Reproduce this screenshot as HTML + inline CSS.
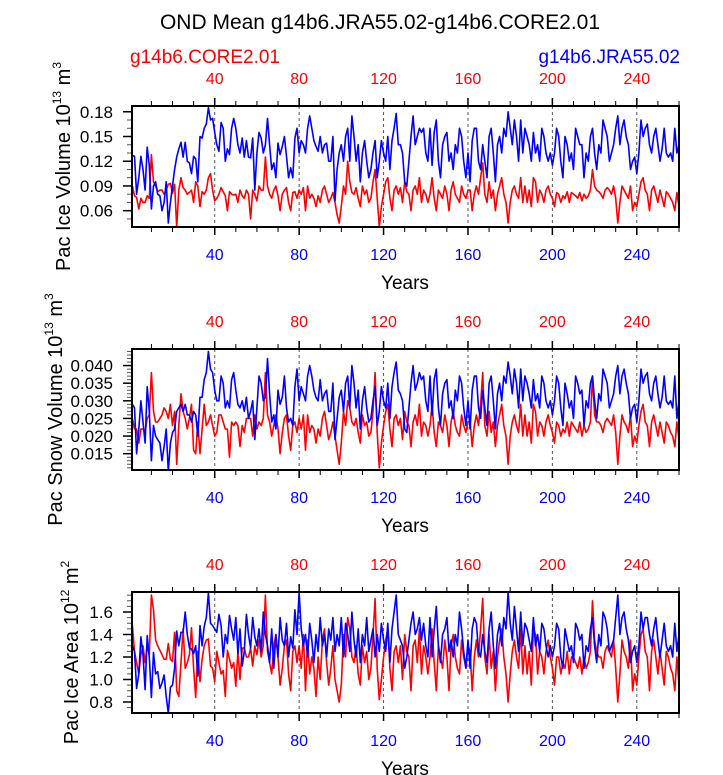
<!DOCTYPE html>
<html><head><meta charset="utf-8"><style>
body{margin:0;background:#fff;}
svg{display:block;font-family:"Liberation Sans",sans-serif;}
</style></head><body>
<svg id="chart" width="723" height="775">
<text x="380" y="29" font-size="21" text-anchor="middle">OND Mean g14b6.JRA55.02-g14b6.CORE2.01</text>
<text x="130" y="63" font-size="19" fill="#ff0000">g14b6.CORE2.01</text>
<text x="680" y="63" font-size="19" fill="#0000ff" text-anchor="end">g14b6.JRA55.02</text>
</svg>
<script>
const years = [];
for (let i = 1; i <= 260; i++) years.push(i);
const xTicks = [40, 80, 120, 160, 200, 240];

const iceVolJRA = [.127,.126,.080,.100,.126,.110,.085,.137,.115,.062,.090,.095,.080,.078,.060,.070,.095,.045,.070,.090,
.110,.125,.135,.143,.125,.143,.120,.118,.105,.126,.123,.095,.150,.148,.160,.165,.185,.170,.172,.155,
.140,.132,.167,.160,.120,.135,.128,.160,.172,.160,.140,.130,.148,.125,.145,.125,.124,.148,.085,.130,
.155,.148,.130,.140,.172,.140,.110,.118,.100,.142,.128,.138,.150,.126,.100,.112,.100,.148,.160,.130,
.145,.140,.130,.160,.175,.160,.145,.138,.132,.150,.130,.140,.142,.120,.120,.150,.072,.110,.130,.140,
.120,.150,.160,.120,.175,.150,.120,.140,.095,.130,.145,.120,.100,.110,.130,.145,.100,.120,.145,.130,
.120,.150,.110,.145,.160,.178,.140,.140,.130,.095,.090,.120,.150,.175,.140,.150,.160,.155,.160,.130,
.120,.160,.115,.155,.170,.120,.100,.140,.150,.155,.120,.130,.110,.140,.130,.160,.150,.120,.100,.130,
.095,.145,.160,.160,.120,.110,.140,.120,.100,.150,.160,.130,.095,.140,.150,.130,.160,.150,.180,.160,
.140,.170,.150,.120,.170,.130,.160,.150,.140,.120,.155,.130,.140,.120,.160,.150,.130,.120,.130,.115,
.130,.160,.150,.120,.100,.150,.140,.120,.130,.110,.160,.150,.140,.140,.100,.130,.120,.150,.160,.130,
.110,.140,.130,.170,.160,.150,.120,.130,.140,.160,.175,.140,.160,.170,.150,.140,.110,.120,.125,.105,
.130,.170,.150,.160,.165,.140,.130,.150,.160,.140,.120,.135,.160,.130,.125,.130,.120,.160,.130,.140];
const iceVolCORE = [.090,.078,.076,.062,.075,.070,.070,.078,.075,.128,.095,.090,.083,.085,.085,.080,.085,.092,.093,.081,
.092,.040,.085,.100,.088,.085,.080,.082,.085,.070,.095,.090,.065,.083,.080,.085,.100,.105,.085,.072,
.075,.080,.088,.083,.078,.060,.083,.080,.079,.080,.070,.085,.078,.075,.085,.080,.050,.085,.080,.072,
.090,.085,.085,.125,.090,.080,.075,.085,.090,.078,.060,.080,.085,.088,.070,.060,.082,.083,.075,.085,
.080,.088,.060,.090,.075,.080,.075,.065,.078,.070,.085,.090,.080,.070,.075,.082,.070,.055,.045,.065,
.090,.080,.120,.095,.082,.080,.088,.075,.065,.090,.080,.085,.070,.075,.095,.110,.075,.040,.065,.080,
.095,.100,.075,.060,.085,.090,.080,.088,.070,.095,.083,.080,.060,.085,.090,.080,.100,.070,.085,.080,
.070,.080,.100,.075,.060,.085,.080,.075,.090,.080,.060,.085,.095,.080,.075,.070,.090,.080,.075,.085,
.085,.060,.080,.090,.080,.100,.118,.080,.070,.095,.075,.085,.060,.080,.090,.100,.080,.070,.045,.070,
.085,.090,.080,.075,.100,.070,.090,.070,.085,.065,.100,.095,.070,.085,.080,.070,.085,.090,.080,.075,
.065,.082,.080,.070,.078,.075,.083,.070,.082,.080,.078,.075,.082,.072,.080,.075,.078,.085,.110,.090,
.085,.083,.080,.075,.085,.088,.085,.080,.090,.075,.045,.070,.090,.085,.080,.075,.090,.060,.070,.065,
.080,.095,.100,.085,.080,.060,.085,.090,.080,.070,.085,.075,.065,.083,.080,.075,.070,.060,.082,.065];
const snowVolJRA = [.029,.028,.015,.022,.030,.024,.018,.034,.027,.013,.023,.020,.019,.018,.013,.017,.022,.010,.018,.021,
.022,.027,.028,.029,.027,.029,.026,.026,.024,.027,.026,.020,.031,.031,.036,.038,.044,.039,.038,.033,
.030,.030,.037,.035,.028,.030,.028,.036,.038,.033,.029,.028,.030,.027,.031,.025,.027,.030,.019,.028,
.037,.035,.030,.031,.042,.032,.024,.026,.022,.033,.029,.031,.037,.028,.024,.025,.023,.034,.039,.030,
.034,.032,.030,.037,.040,.037,.033,.031,.030,.036,.030,.032,.033,.027,.027,.035,.019,.025,.031,.033,
.027,.035,.037,.028,.040,.035,.028,.033,.022,.030,.034,.028,.024,.025,.030,.034,.023,.027,.034,.030,
.028,.035,.025,.034,.038,.041,.033,.032,.030,.022,.021,.028,.035,.040,.033,.035,.038,.036,.037,.030,
.027,.037,.026,.036,.039,.028,.023,.032,.035,.036,.028,.030,.025,.033,.030,.037,.035,.028,.023,.030,
.022,.033,.037,.037,.028,.025,.033,.028,.023,.035,.037,.030,.022,.032,.035,.030,.037,.035,.041,.037,
.032,.039,.035,.028,.039,.030,.037,.035,.032,.028,.036,.030,.032,.028,.037,.035,.030,.028,.030,.026,
.030,.037,.035,.028,.023,.035,.032,.028,.030,.025,.037,.035,.032,.033,.023,.030,.028,.035,.037,.030,
.025,.032,.030,.039,.037,.035,.028,.030,.032,.037,.040,.032,.037,.039,.035,.032,.025,.028,.029,.024,
.030,.039,.035,.037,.038,.032,.030,.035,.037,.032,.028,.031,.037,.030,.029,.030,.028,.037,.025,.030];
const snowVolCORE = [.025,.022,.022,.018,.022,.022,.021,.025,.026,.038,.027,.024,.024,.025,.026,.028,.027,.025,.029,.023,
.027,.012,.023,.032,.027,.025,.022,.025,.029,.016,.015,.024,.015,.022,.029,.023,.024,.026,.023,.020,
.021,.026,.026,.024,.022,.022,.014,.024,.023,.024,.023,.017,.023,.021,.025,.025,.025,.020,.026,.022,
.024,.023,.025,.038,.026,.024,.020,.023,.026,.022,.015,.021,.025,.026,.020,.016,.023,.024,.021,.025,
.022,.026,.016,.026,.021,.023,.022,.018,.022,.020,.025,.027,.023,.019,.021,.024,.020,.016,.012,.018,
.027,.023,.030,.028,.024,.023,.025,.021,.018,.026,.023,.024,.020,.021,.027,.038,.021,.011,.018,.023,
.027,.029,.022,.017,.025,.026,.023,.025,.019,.027,.024,.023,.017,.024,.026,.023,.029,.020,.024,.023,
.020,.023,.029,.021,.017,.024,.023,.021,.026,.023,.017,.024,.027,.023,.021,.020,.026,.023,.021,.024,
.024,.017,.023,.026,.023,.029,.038,.023,.020,.027,.021,.024,.017,.023,.026,.029,.023,.020,.012,.020,
.024,.026,.023,.021,.029,.020,.026,.020,.024,.018,.029,.027,.020,.024,.023,.020,.024,.026,.023,.021,
.018,.024,.023,.020,.022,.021,.024,.020,.024,.023,.022,.021,.024,.020,.023,.021,.022,.024,.037,.026,
.024,.024,.023,.021,.024,.025,.024,.023,.026,.021,.012,.020,.026,.024,.023,.021,.026,.017,.020,.018,
.023,.027,.029,.024,.023,.017,.024,.026,.023,.020,.024,.021,.018,.024,.023,.021,.020,.017,.024,.019];
const areaJRA = [1.30,1.25,0.92,1.05,1.38,1.22,0.91,1.39,1.20,0.84,1.24,1.05,1.07,0.92,0.97,1.04,0.85,0.70,0.93,0.95,
1.10,1.43,1.30,1.42,1.42,1.60,1.40,1.28,1.27,1.23,1.30,1.03,1.48,1.30,1.47,1.55,1.77,1.50,1.48,1.45,
1.42,1.58,1.48,1.20,1.40,1.32,1.57,1.45,1.35,1.55,1.23,1.45,1.12,1.25,1.58,1.40,1.28,1.55,1.38,1.30,
1.45,1.25,1.60,1.40,1.30,1.15,1.45,1.10,1.40,1.20,1.55,1.35,1.30,1.50,1.20,1.38,1.28,1.62,1.40,1.78,
1.45,1.30,1.40,1.20,1.50,1.35,1.15,1.40,1.25,1.55,1.30,1.40,1.20,1.45,1.35,1.55,1.25,1.40,1.30,1.55,
1.20,1.50,1.40,1.25,1.60,1.35,1.20,1.45,1.15,1.40,1.30,1.55,1.25,1.35,1.45,1.20,1.40,1.25,1.50,1.35,
1.25,1.50,1.15,1.45,1.60,1.75,1.40,1.35,1.30,1.10,1.20,1.35,1.50,1.60,1.40,1.45,1.55,1.35,1.50,1.30,
1.20,1.55,1.20,1.45,1.65,1.30,1.15,1.40,1.45,1.55,1.25,1.35,1.20,1.40,1.30,1.60,1.45,1.25,1.10,1.35,
1.10,1.45,1.55,1.50,1.25,1.20,1.40,1.25,1.15,1.45,1.60,1.30,1.10,1.40,1.50,1.30,1.55,1.45,1.78,1.50,
1.35,1.65,1.45,1.25,1.60,1.30,1.50,1.45,1.35,1.25,1.55,1.30,1.40,1.25,1.50,1.45,1.30,1.20,1.30,1.20,
1.30,1.50,1.45,1.20,1.10,1.45,1.35,1.25,1.30,1.15,1.50,1.45,1.35,1.40,1.10,1.30,1.25,1.45,1.55,1.30,
1.15,1.40,1.30,1.60,1.55,1.45,1.25,1.30,1.35,1.55,1.75,1.40,1.55,1.60,1.45,1.35,1.15,1.25,1.30,1.15,
1.30,1.60,1.45,1.55,1.55,1.40,1.30,1.45,1.55,1.35,1.20,1.35,1.50,1.30,1.25,1.30,1.20,1.50,1.25,1.40];
const areaCORE = [1.48,1.25,1.15,1.05,1.22,1.30,1.15,1.30,1.22,1.75,1.62,1.35,1.30,1.26,1.22,1.18,1.18,1.32,1.18,1.16,
1.42,0.90,0.85,1.15,1.45,1.10,1.15,1.22,1.46,1.10,0.84,1.25,0.98,1.18,1.30,1.35,1.36,1.12,1.10,0.98,
1.25,1.15,1.05,1.08,0.85,1.26,1.18,1.10,1.15,0.94,1.25,1.00,1.28,1.28,1.20,1.20,1.28,1.12,1.30,1.22,
1.35,1.20,1.30,1.75,1.25,1.15,1.05,1.30,1.40,1.20,0.95,1.10,1.30,1.35,1.05,0.90,1.25,1.30,1.15,1.30,
1.10,1.40,0.90,1.35,1.05,1.20,1.10,0.85,1.20,1.00,1.35,1.45,1.15,0.95,1.10,1.30,1.00,0.90,0.80,0.95,
1.40,1.20,1.55,1.45,1.20,1.15,1.30,1.05,0.95,1.30,1.15,1.25,1.00,1.10,1.40,1.72,1.10,0.82,1.00,1.20,
1.35,1.45,1.10,0.90,1.25,1.30,1.15,1.30,1.00,1.40,1.25,1.20,0.90,1.30,1.35,1.15,1.45,1.05,1.30,1.20,
1.05,1.20,1.45,1.15,0.90,1.30,1.20,1.10,1.35,1.20,0.90,1.30,1.40,1.20,1.10,1.05,1.35,1.20,1.10,1.30,
1.25,0.90,1.20,1.35,1.20,1.45,1.72,1.20,1.05,1.40,1.10,1.25,0.90,1.20,1.35,1.45,1.20,1.05,0.80,1.05,
1.25,1.35,1.20,1.10,1.45,1.05,1.30,1.05,1.25,0.95,1.45,1.40,1.05,1.25,1.20,1.05,1.25,1.35,1.20,1.10,
0.95,1.20,1.20,1.05,1.15,1.10,1.25,1.05,1.20,1.20,1.15,1.10,1.20,1.05,1.20,1.10,1.15,1.25,1.70,1.35,
1.25,1.20,1.20,1.10,1.25,1.30,1.25,1.20,1.35,1.10,0.80,1.05,1.35,1.25,1.20,1.10,1.35,0.90,1.05,0.95,
1.20,1.40,1.45,1.25,1.20,0.90,1.25,1.35,1.20,1.05,1.25,1.10,0.95,1.25,1.20,1.10,1.05,0.90,1.20,0.95];

const iceVolTicks = ["0.06","0.09","0.12","0.15","0.18"];
const snowVolTicks = ["0.015","0.020","0.025","0.030","0.035","0.040"];
const areaTicks = ["0.8","1.0","1.2","1.4","1.6"];

const svg = document.getElementById('chart');
const NS = 'http://www.w3.org/2000/svg';
function mk(tag, attrs, parent) {
  const e = document.createElementNS(NS, tag);
  for (const k in attrs) e.setAttribute(k, attrs[k]);
  (parent || svg).appendChild(e);
  return e;
}

const X0 = 132, X1 = 679, XMIN = 0.8, XMAX = 260;
function xScale(v) { return X0 + (v - XMIN) / (XMAX - XMIN) * (X1 - X0); }

function panel(name, top, bottom, ymin, ymax, yTicks, minorStep, red, blue, titleMain, exp, unitExp, titleX) {
  const g = mk('g', {});
  
  
  const yScale = v => bottom - (v - ymin) / (ymax - ymin) * (bottom - top);
  xTicks.forEach(t => {
    const gl = mk('line', {x1: xScale(t), x2: xScale(t), y1: top, y2: bottom, stroke: '#555', 'stroke-width': 1, 'stroke-dasharray': '3,3'}, g);
    
    
  });
  for (let t = 10; t <= 260; t += 10) {
    const major = t % 40 === 0;
    const L = major ? 8 : 5;
    const x = xScale(t);
    mk('line', {x1: x, x2: x, y1: bottom, y2: bottom + L, stroke: '#000', 'stroke-width': major ? 1.5 : 1}, g);
    mk('line', {x1: x, x2: x, y1: top, y2: top - L, stroke: '#000', 'stroke-width': major ? 1.5 : 1}, g);
  }
  xTicks.forEach(t => {
    const tt = mk('text', {x: xScale(t), y: top - 22, 'font-size': 16, fill: '#ff0000', 'text-anchor': 'middle'}, g);
    tt.textContent = t;
    
    
    const tb = mk('text', {x: xScale(t), y: bottom + 33, 'font-size': 16, fill: '#0000ff', 'text-anchor': 'middle'}, g);
    tb.textContent = t;
    
    
  });
  const xt = mk('text', {x: 405, y: bottom + 62, 'font-size': 19, 'text-anchor': 'middle'}, g);
  xt.textContent = 'Years';
  
  
  const mStart = Math.ceil(ymin / minorStep);
  for (let k = mStart; k * minorStep <= ymax; k++) {
    const y = yScale(k * minorStep);
    mk('line', {x1: X0, x2: X0 - 5, y1: y, y2: y, stroke: '#555', 'stroke-width': 1}, g);
  }
  yTicks.forEach(s => {
    const y = yScale(parseFloat(s));
    mk('line', {x1: X0, x2: X0 - 9, y1: y, y2: y, stroke: '#000', 'stroke-width': 1.5}, g);
    const tl = mk('text', {x: X0 - 19, y: y + 6, 'font-size': 17, 'text-anchor': 'end'}, g);
    tl.textContent = s;
    
    
  });
  const cy = (top + bottom) / 2;
  const yt = mk('text', {x: 0, y: 0, 'font-size': 20, 'text-anchor': 'middle', transform: `translate(${titleX},${cy}) rotate(-90)`}, g);
  yt.innerHTML = titleMain + ' 10<tspan font-size="12" dy="-9">' + exp + '</tspan><tspan dy="9"> m</tspan><tspan font-size="12" dy="-9">' + unitExp + '</tspan>';
  
  
  const cp = mk('clipPath', {id: 'clip-' + name}, g);
  mk('rect', {x: X0, y: top, width: X1 - X0, height: bottom - top}, cp);
  function series(data, color, sname) {
    const d = data.map((v, i) => (i ? 'L' : 'M') + xScale(years[i]).toFixed(1) + ',' + yScale(v).toFixed(1)).join('');
    const p = mk('path', {d: d, fill: 'none', stroke: color, 'stroke-width': 1.6, 'stroke-linejoin': 'round', 'clip-path': `url(#clip-${name})`}, g);
    
    
  }
  series(red, '#ff0000', name + '-core-line');
  series(blue, '#0000ff', name + '-jra-line');
  const fr = mk('rect', {x: X0, y: top, width: X1 - X0, height: bottom - top, fill: 'none', stroke: '#000', 'stroke-width': 2}, g);
  
  
}

panel('ice-volume', 106, 227, 0.0402, 0.187, iceVolTicks, 0.01, iceVolCORE, iceVolJRA, 'Pac Ice Volume', '13', '3', 70);
panel('snow', 349, 470, 0.01037, 0.0447, snowVolTicks, 0.001, snowVolCORE, snowVolJRA, 'Pac Snow Volume', '13', '3', 62);
panel('ice-area', 592, 713, 0.702, 1.778, areaTicks, 0.05, areaCORE, areaJRA, 'Pac Ice Area', '12', '2', 78);
</script>
</body></html>
